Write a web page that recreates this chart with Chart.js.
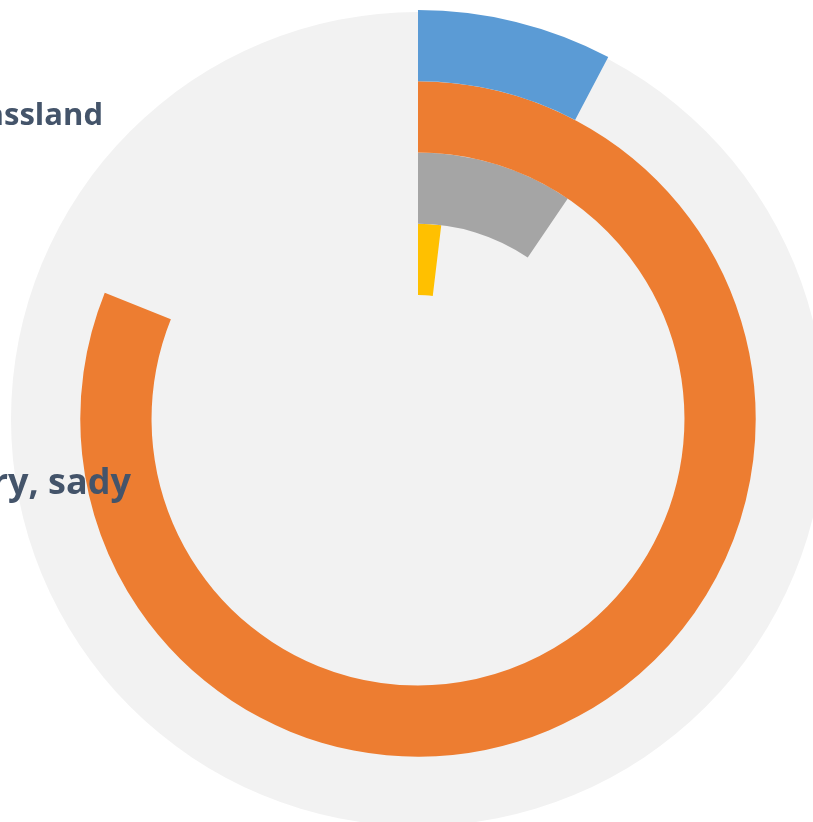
<!DOCTYPE html>
<html>
<head>
<meta charset="utf-8">
<script src="https://cdn.jsdelivr.net/npm/chart.js@4"></script>
<style>
  html, body { margin: 0; padding: 0; background: #ffffff; overflow: hidden; }
  body { width: 813px; height: 822px; position: relative; }
  #wrap { position: absolute; left: 0; top: 0; width: 836px; height: 838px; }
  .lbl {
    position: absolute; white-space: nowrap; text-align: right;
    font-family: "Open Sans", sans-serif; font-weight: bold; color: #44546a;
    z-index: 2;
  }
</style>
</head>
<body>
<div id="wrap"><canvas id="rings"></canvas></div>
<div class="lbl" id="lbl0" style="right:710px; top:92px; font-size:31px;"></div>
<div class="lbl" id="lbl1" style="right:682px; top:456px; font-size:36px;"></div>
<script>
// rings from outside to inside, share of the full circle (%)
const ringNames = ["Forest", "Grassland", "Arable land", "Water"];
const ringValues = [7.7, 81.1, 9.5, 1.9];
const ringColors = ["#5b9bd5", "#ed7d31", "#a5a5a5", "#ffc000"];
const sideLabels = ["Grassland", "Trvalé kultury, sady"];

document.getElementById("lbl0").textContent = sideLabels[0];
document.getElementById("lbl1").textContent = sideLabels[1];

// light grey disc behind the rings
const discBackground = {
  id: "discBackground",
  beforeDatasetsDraw(chart) {
    const arc = chart.getDatasetMeta(0).data[0];
    if (!arc) return;
    const ctx = chart.ctx;
    ctx.save();
    ctx.beginPath();
    ctx.arc(arc.x, arc.y, arc.outerRadius - 2, 0, Math.PI * 2);
    ctx.fillStyle = "#f2f2f2";
    ctx.fill();
    ctx.restore();
  },
};

const datasets = ringValues.map((v, i) => ({
  label: ringNames[i],
  data: [v, 100 - v],
  backgroundColor: [ringColors[i], "rgba(0,0,0,0)"],
  borderWidth: 0,
}));

new Chart(document.getElementById("rings"), {
  type: "doughnut",
  data: {
    labels: ["value", "rest"],
    datasets: datasets,
  },
  options: {
    responsive: true,
    maintainAspectRatio: false,
    animation: false,
    cutout: "30.3%",
    layout: { padding: 9 },
    plugins: {
      legend: { display: false },
      tooltip: { enabled: false },
    },
  },
  plugins: [discBackground],
});
</script>
</body>
</html>
